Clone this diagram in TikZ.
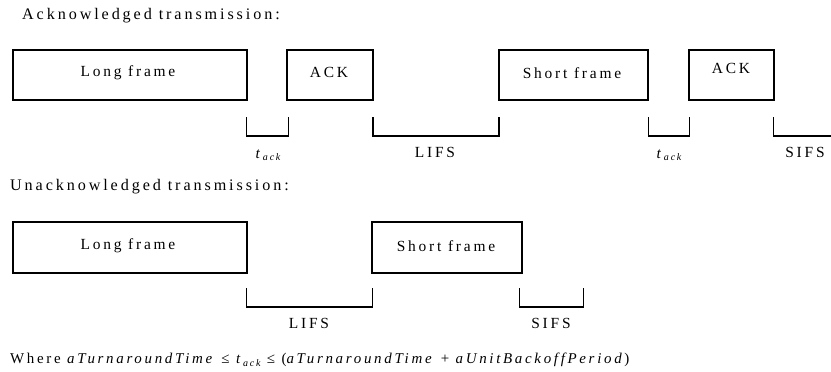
\documentclass[tikz,border=0pt]{standalone}
\usepackage{fontspec}
\setmainfont{Liberation Serif}[LetterSpace=18]
\newcommand{\tsub}[1]{\textit{t}\raisebox{-0.35ex}{\fontsize{10}{11}\selectfont\itshape #1}}
\begin{document}
\begin{tikzpicture}[x=1bp,y=-1bp,
  frame/.style={draw,line width=1.6bp,inner sep=0pt},
  lbl/.style={font=\fontsize{15.5}{18}\selectfont,inner sep=0pt},
  ttl/.style={font=\fontsize{16.2}{18}\selectfont,inner sep=0pt,anchor=west},
  nte/.style={font=\fontsize{15}{18}\selectfont,inner sep=0pt,anchor=west},
  brk/.style={line width=1.8bp}]
\useasboundingbox (0,0) rectangle (831,371);
% ---- Acknowledged
\node[ttl] (t1) at (22,16) {Acknowledged transmission:};
\node[frame,minimum width=234bp,minimum height=50bp] (lf1) at (130,75) {};
\node[lbl] (lf1t) at (128,73) {Long frame};
\node[frame,minimum width=86bp,minimum height=50bp] (ack1) at (330,75) {};
\node[lbl] (ack1t) at (329,72) {ACK};
\node[frame,minimum width=149bp,minimum height=50bp] (sf1) at (573.5,75) {};
\node[lbl] (sf1t) at (572,73) {Short frame};
\node[frame,minimum width=85bp,minimum height=50bp] (ack2) at (731.5,75) {};
\node[lbl] (ack2t) at (731,68) {ACK};
% brackets
\draw[brk] (246.5,117) |- (288.5,136) -- (288.5,117);
\draw[brk] (373,117) |- (499,136) -- (499,117);
\draw[brk] (648.5,117) |- (689.5,136) -- (689.5,117);
\draw[brk] (773.5,117) |- (832,136);
\node[lbl] (tk1) at (268,155) {\tsub{ack}};
\node[lbl] (lifs1) at (435,152) {LIFS};
\node[lbl] (tk2) at (669,155) {\tsub{ack}};
\node[lbl] (sifs1) at (805,152) {SIFS};
% ---- Unacknowledged
\node[ttl] (t2) at (10,187) {Unacknowledged transmission:};
\node[frame,minimum width=234bp,minimum height=51bp] (lf2) at (130,247.5) {};
\node[lbl] (lf2t) at (128,246) {Long frame};
\node[frame,minimum width=150bp,minimum height=51bp] (sf2) at (447,247.5) {};
\node[lbl] (sf2t) at (446,246) {Short frame};
\draw[brk] (246.5,288) |- (372.5,307) -- (372.5,288);
\draw[brk] (519.5,288) |- (583.5,307) -- (583.5,288);
\node[lbl] (lifs2) at (309,323) {LIFS};
\node[lbl] (sifs2) at (551,323) {SIFS};
% ---- note
\node[nte] (note) at (10,360) {Where \textit{aTurnaroundTime} ≤ \tsub{ack} ≤ (\textit{aTurnaroundTime} + \textit{aUnitBackoffPeriod})};
\end{tikzpicture}
\end{document}
